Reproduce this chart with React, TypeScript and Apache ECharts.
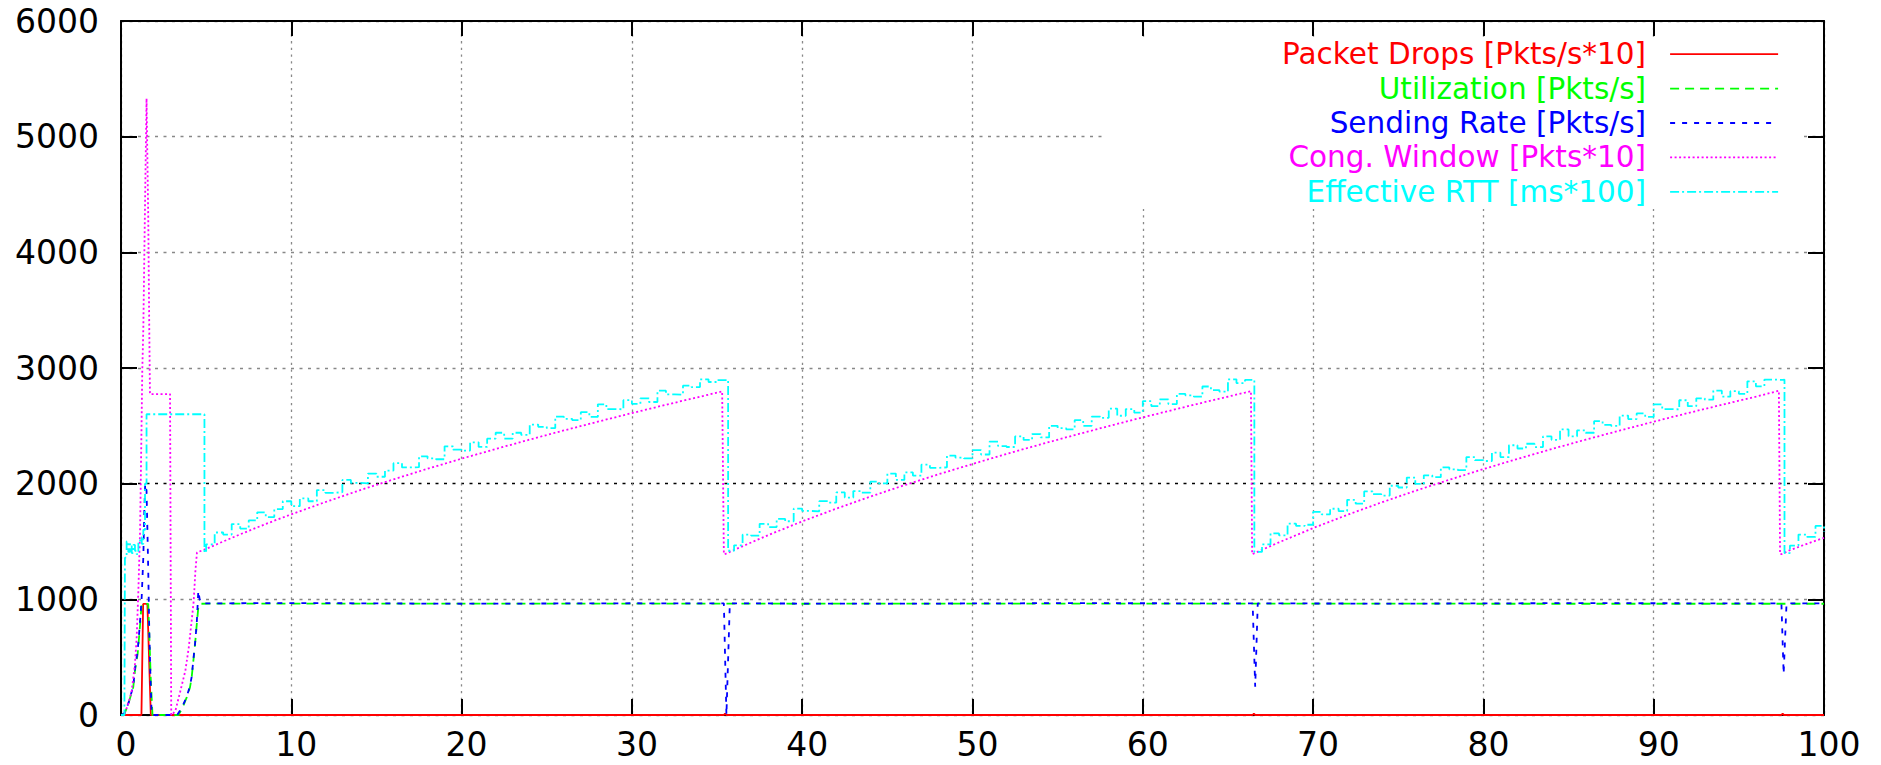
import React, { useEffect, useRef } from 'react';
import * as echarts from 'echarts';

const FONT = 'DejaVu Sans';

const seriesNames = [
  'Packet Drops [Pkts/s*10]',
  'Utilization [Pkts/s]',
  'Sending Rate [Pkts/s]',
  'Cong. Window [Pkts*10]',
  'Effective RTT [ms*100]',
];
const seriesColors = ['#ff0000', '#00ff00', '#0000ff', '#ff00ff', '#00ffff'];

// x axis: time [s], y axis: scaled values
const X_MIN = 0, X_MAX = 100, X_STEP = 10;
const Y_MIN = 0, Y_MAX = 6000, Y_STEP = 1000;

const dropsData = [
  [0, 0], [1.2, 0], [1.3, 960], [1.55, 960], [1.75, 0],
  [35.4, 0], [35.47, 12], [35.55, 0],
  [66.45, 0], [66.52, 12], [66.6, 0],
  [97.5, 0], [97.57, 12], [97.65, 0], [100, 0],
];

const utilStart = [
  [0, 0], [0.2, 10], [0.43, 95], [0.72, 240], [0.82, 383], [0.98, 530], [1.06, 670], [1.14, 815],
  [1.21, 960], [1.6, 960], [1.66, 700], [1.75, 300], [1.85, 0], [3.37, 0], [3.6, 60], [3.86, 152],
  [4.05, 239], [4.15, 325], [4.25, 470], [4.35, 614], [4.45, 786], [4.54, 930], [4.64, 962],
];
const utilSteady = [[20, 963], [40, 962], [60, 963], [80, 962], [100, 962]];

const sendStart = [
  [0, 0], [0.2, 15], [0.43, 100], [0.72, 250], [0.82, 400], [0.98, 560], [1.06, 700], [1.14, 850],
  [1.21, 1003], [1.31, 1362], [1.37, 1766], [1.42, 1997], [1.5, 1940], [1.56, 1535], [1.6, 1247],
  [1.66, 729], [1.72, 383], [1.8, 0], [3.3, 0], [3.6, 70], [3.86, 160], [4.05, 250], [4.15, 330],
  [4.25, 480], [4.35, 620], [4.45, 800], [4.54, 1074], [4.62, 1000], [4.75, 965],
];
const sendSteady = [
  [10, 968], [20, 962], [30, 966], [35.4, 965], [35.55, 0], [35.75, 965], [45, 962], [55, 967],
  [66.45, 965], [66.6, 245], [66.75, 965], [75, 963], [85, 967], [97.5, 965], [97.63, 355],
  [97.8, 965], [100, 965],
];

const cwndStart = [
  [0, 0], [0.15, 0], [0.4, 80], [0.63, 210], [0.82, 441], [0.92, 671], [1.02, 1074], [1.12, 1593],
  [1.17, 2112], [1.25, 2977], [1.31, 3336], [1.4, 4300], [1.5, 5330], [1.6, 4300], [1.66, 3336],
  [1.7, 2775], [2.88, 2775], [2.95, 0], [3.0, 0], [3.2, 40], [3.49, 210], [3.78, 383], [3.98, 585],
  [4.17, 844], [4.27, 988], [4.37, 1247], [4.46, 1405],
];
const cwndCycle1 = [
  [5, 1436], [6, 1500], [7, 1562], [8, 1622], [9, 1680], [10, 1735], [12, 1841], [14, 1942],
  [16, 2037], [18, 2129], [20, 2216], [22, 2300], [24, 2381], [26, 2460], [28, 2536], [30, 2610],
  [32, 2682], [34, 2752], [35.3, 2797], [35.4, 1390],
];
const cwndCycle2 = [
  [35.45, 1390], [36, 1427], [38, 1555], [40, 1674], [42, 1784], [44, 1888], [46, 1987], [48, 2081],
  [50, 2170], [52, 2257], [54, 2340], [56, 2420], [58, 2498], [60, 2573], [62, 2646], [64, 2718],
  [66, 2787], [66.35, 2800], [66.42, 1390],
];
const cwndCycle3 = [
  [66.45, 1390], [68, 1493], [70, 1616], [72, 1730], [74, 1837], [76, 1938], [78, 2034], [80, 2126],
  [82, 2214], [84, 2299], [86, 2380], [88, 2459], [90, 2536], [92, 2610], [94, 2682], [96, 2752],
  [97.35, 2803], [97.42, 1390],
];
const cwndTail = [[97.5, 1390], [98, 1425], [99, 1480], [100, 1532]];

const rttStart = [
  [0, 0], [0.2, 0], [0.23, 1360], [0.33, 1500], [0.43, 1410], [0.53, 1480], [0.63, 1400], [0.72, 1470],
  [0.82, 1420], [0.92, 1390], [1.02, 1500], [1.12, 1535], [1.22, 1480], [1.31, 1600], [1.41, 2000],
  [1.5, 2600], [4.85, 2600], [4.9, 1405],
];
const rttCycle1 = [
  [5, 1476], [5.5, 1578], [6, 1560], [6.5, 1651], [7, 1612], [7.5, 1682], [8, 1752], [8.5, 1711],
  [9, 1780], [9.5, 1848], [10, 1805], [10.5, 1872], [11, 1848], [11.5, 1945], [12, 1921], [12.5, 1926],
  [13, 2032], [13.5, 2007], [14, 2002], [14.5, 2086], [15, 2060], [15.5, 2113], [16, 2177], [16.5, 2140],
  [17, 2143], [17.5, 2236], [18, 2219], [18.5, 2211], [19, 2323], [19.5, 2294], [20, 2286], [20.5, 2357],
  [21, 2318], [21.5, 2389], [22, 2440], [22.5, 2390], [23, 2440], [23.5, 2421], [24, 2511], [24.5, 2491],
  [25, 2481], [25.5, 2580], [26, 2560], [26.5, 2549], [27, 2618], [27.5, 2577], [28, 2686], [28.5, 2645],
  [29, 2643], [29.5, 2722], [30, 2690], [30.5, 2738], [31, 2706], [31.5, 2804], [32, 2772], [32.5, 2770],
  [33, 2847], [33.5, 2835], [34, 2902], [34.5, 2879], [35, 2896], [35.6, 2900], [35.65, 1420],
];
const rttCycle2 = [
  [36, 1467], [36.5, 1559], [37, 1551], [37.5, 1653], [38, 1625], [38.5, 1695], [39, 1675], [39.5, 1784],
  [40, 1764], [40.5, 1761], [41, 1849], [41.5, 1836], [42, 1924], [42.5, 1880], [43, 1936], [43.5, 1922],
  [44, 2018], [44.5, 2003], [45, 2087], [45.5, 2032], [46, 2097], [46.5, 2070], [47, 2164], [47.5, 2137],
  [48, 2141], [48.5, 2243], [49, 2225], [49.5, 2218], [50, 2290], [50.5, 2252], [51, 2363], [51.5, 2325],
  [52, 2317], [52.5, 2408], [53, 2378], [53.5, 2429], [54, 2400], [54.5, 2500], [55, 2480], [55.5, 2470],
  [56, 2550], [56.5, 2500], [57, 2579], [57.5, 2569], [58, 2648], [58.5, 2587], [59, 2645], [59.5, 2614],
  [60, 2713], [60.5, 2671], [61, 2729], [61.5, 2688], [62, 2776], [62.5, 2764], [63, 2752], [63.5, 2840],
  [64, 2808], [64.5, 2795], [65, 2902], [65.5, 2870], [66, 2897], [66.5, 2900], [66.55, 1410],
];
const rttCycle3 = [
  [67, 1475], [67.5, 1570], [68, 1553], [68.5, 1654], [69, 1635], [69.5, 1645], [70, 1756], [70.5, 1735],
  [71, 1783], [71.5, 1762], [72, 1860], [72.5, 1827], [73, 1933], [73.5, 1910], [74, 1897], [74.5, 1982],
  [75, 1967], [75.5, 2053], [76, 1998], [76.5, 2072], [77, 2056], [77.5, 2140], [78, 2124], [78.5, 2117],
  [79, 2230], [79.5, 2203], [80, 2196], [80.5, 2268], [81, 2230], [81.5, 2332], [82, 2304], [82.5, 2345],
  [83, 2316], [83.5, 2408], [84, 2379], [84.5, 2469], [85, 2409], [85.5, 2460], [86, 2440], [86.5, 2540],
  [87, 2509], [87.5, 2499], [88, 2589], [88.5, 2558], [89, 2607], [89.5, 2577], [90, 2686], [90.5, 2644],
  [91, 2643], [91.5, 2721], [92, 2670], [92.5, 2738], [93, 2726], [93.5, 2804], [94, 2752], [94.5, 2800],
  [95, 2777], [95.5, 2885], [96, 2842], [96.5, 2900], [97, 2897], [97.6, 2900], [97.68, 1400],
];
const rttTail = [[98, 1465], [98.5, 1560], [99, 1540], [99.5, 1635], [100, 1582]];

export default function App() {
  const ref = useRef<HTMLDivElement>(null);

  useEffect(() => {
    if (!ref.current) return;
    const chart = echarts.init(ref.current, null, { renderer: 'svg' });

    const dashes: any[] = ['solid', [9, 6], [5, 7], [2, 2.5], [9, 3, 2, 3]];
    const datasets = [
      dropsData,
      [...utilStart, ...utilSteady],
      [...sendStart, ...sendSteady],
      [...cwndStart, ...cwndCycle1, ...cwndCycle2, ...cwndCycle3, ...cwndTail],
      [...rttStart, ...rttCycle1, ...rttCycle2, ...rttCycle3, ...rttTail],
    ];

    const series = seriesNames.map((name, i) => ({
      name,
      type: 'line',
      data: datasets[i],
      symbol: 'none',
      showSymbol: false,
      step: i === 4 ? 'end' : false,
      lineStyle: { color: seriesColors[i], width: 1.8, type: dashes[i] },
      itemStyle: { color: seriesColors[i] },
      emphasis: { disabled: true },
      animation: false,
    }));

    const axisLine = { show: true, onZero: false, lineStyle: { color: '#000', width: 2 } };
    const axisTick = { show: true, inside: true, length: 16, lineStyle: { color: '#000', width: 2 } };
    const plain = (v: number) => String(v);

    chart.setOption({
      animation: false,
      backgroundColor: '#ffffff',
      grid: { left: 121, right: 57, top: 21, bottom: 50, containLabel: false },
      xAxis: [
        {
          type: 'value', min: X_MIN, max: X_MAX, interval: X_STEP, position: 'bottom',
          axisLine, axisTick,
          axisLabel: {
            show: true, fontFamily: FONT, fontSize: 33, lineHeight: 33, color: '#000',
            margin: 13, padding: [0, 0, 0, 10], formatter: plain,
          },
          splitLine: { show: true, lineStyle: { color: '#888', width: 1.3, type: [2.3, 4.4] } },
        },
        {
          type: 'value', min: X_MIN, max: X_MAX, interval: X_STEP, position: 'top',
          axisLine, axisTick: { ...axisTick, length: 15 },
          axisLabel: { show: false }, splitLine: { show: false },
        },
      ],
      yAxis: [
        {
          type: 'value', min: Y_MIN, max: Y_MAX, interval: Y_STEP, position: 'left',
          axisLine, axisTick,
          axisLabel: { show: true, fontFamily: FONT, fontSize: 33, color: '#000', margin: 22, formatter: plain },
          splitLine: {
            show: true,
            lineStyle: { color: ['#888', '#888', '#000', '#888', '#888', '#888', '#888'], width: 1.3, type: [3, 5.5] },
          },
        },
        {
          type: 'value', min: Y_MIN, max: Y_MAX, interval: Y_STEP, position: 'right',
          axisLine, axisTick,
          axisLabel: { show: false }, splitLine: { show: false },
        },
      ],
      legend: {
        orient: 'vertical',
        align: 'right',
        right: 81,
        top: 37,
        padding: [0, 21, 0, 176],
        backgroundColor: '#ffffff',
        itemWidth: 108,
        itemHeight: 14,
        itemGap: 0,
        selectedMode: false,
        itemStyle: { opacity: 0 },
        textStyle: { fontFamily: FONT, fontSize: 29.5, lineHeight: 34.4, padding: [0, 19, 0, 0] },
        data: seriesNames.map((name, i) => ({
          name,
          textStyle: { color: seriesColors[i] },
          itemStyle: { opacity: 0 },
          lineStyle: { color: seriesColors[i], width: 1.8, type: dashes[i] },
        })),
      },
      series,
    });

    return () => chart.dispose();
  }, []);

  return (
    <div
      ref={ref}
      style={{ position: 'absolute', left: 0, top: 0, width: 1881, height: 765, background: '#fff' }}
    />
  );
}
